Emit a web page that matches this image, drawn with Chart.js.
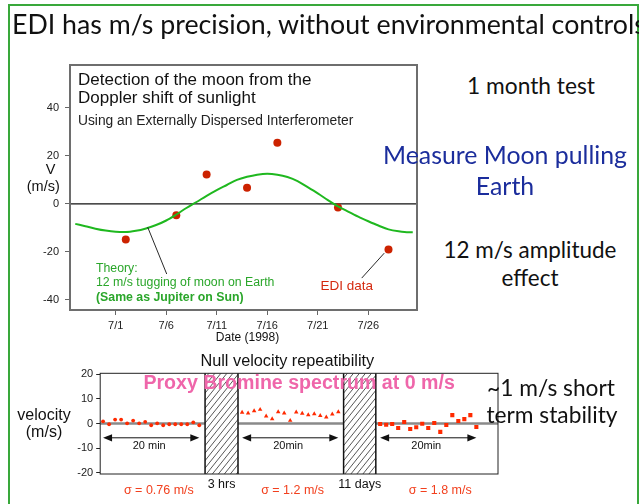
<!DOCTYPE html>
<html>
<head>
<meta charset="utf-8">
<script src="https://cdn.jsdelivr.net/npm/chart.js@4.4.1/dist/chart.umd.min.js"></script>
<style>
  html, body { margin: 0; padding: 0; width: 639px; height: 504px; overflow: hidden; background: #fff; }
  #slide { position: relative; width: 639px; height: 504px; overflow: hidden; }
  #frame { position: absolute; left: 8px; top: 4px; width: 631px; height: 640px; box-sizing: border-box;
           border: 2px solid #39a83b; }
  .wrap { position: absolute; }
  .t { position: absolute; white-space: nowrap; font-family: Lato, 'Open Sans', sans-serif; line-height: 1.2;
       z-index: 5; color: #111; }
  .c { transform: translate(-50%, -50%); }
  .l { transform: translate(0, -50%); }
  .blue { color: #1b2d9c; }
</style>
</head>
<body>
<div id="slide">
  <div id="frame"></div>
  <div class="wrap" style="left:0;top:0;width:430px;height:350px"><canvas id="moonChart"></canvas></div>
  <div class="wrap" style="left:0;top:340px;width:520px;height:164px"><canvas id="nullChart"></canvas></div>

  <div class="t l" id="title" style="left:12px;top:24px">EDI has m/s precision, without environmental controls</div>
  <div class="t c" id="month" style="left:531px;top:86px">1 month test</div>
  <div class="t c blue" id="moon1" style="left:505px;top:155px">Measure Moon pulling</div>
  <div class="t c blue" id="moon2" style="left:505px;top:186px">Earth</div>
  <div class="t c" id="amp1" style="left:530px;top:250px">12 m/s amplitude</div>
  <div class="t c" id="amp2" style="left:530px;top:278px">effect</div>
  <div class="t c" id="stab1" style="left:551px;top:388px">~1 m/s short</div>
  <div class="t c" id="stab2" style="left:552px;top:415px">term stability</div>
</div>

<script>
// ---- Moon detection run (July 1998) ----
const dateTickDays   = [1, 6, 11, 16, 21, 26];            // day of July
const dateTickLabels = ['7/1', '7/6', '7/11', '7/16', '7/21', '7/26'];
const velTicks       = [-40, -20, 0, 20, 40];

const ediDays = [2, 7, 10, 14, 17, 23, 28];
const ediVel  = [-14.8, -4.7, 12.3, 6.7, 25.5, -1.5, -19.0];

const theoryDays = [-3, -2, -1, 0, 1, 2, 3, 4, 5, 6, 7, 8, 9, 10, 11, 12, 13, 14, 15, 16,
                    17, 18, 19, 20, 21, 22, 23, 24, 25, 26, 27, 28, 29, 30, 30.4];
const theoryVel  = [-8.3, -9.3, -10.3, -11.1, -11.6, -11.7, -11.2, -10.2, -8.8, -6.9, -4.4, -1.7,
                    0.8, 3.4, 5.8, 7.9, 10.0, 11.3, 12.2, 12.6, 12.2, 11.2, 9.5, 7.0, 4.4, 1.6,
                    -1.0, -3.2, -5.3, -7.2, -9.0, -10.6, -11.4, -11.8, -11.8];

// ---- Null velocity repeatibility (bromine proxy spectrum) ----
const nullTicks    = [-20, -10, 0, 10, 20];
const nullSegStart = [0, 28.9, 57.6];        // start of each 20 min run on the plotted time axis (min)
const nullStep     = 1.25;                   // minutes between exposures
const nullRun1 = [0.9, -0.3, 1.6, 1.6, 0.1, 1.2, 0.1, 0.7, -0.7, 0.1, -0.7, -0.3, -0.3, -0.3, -0.3, 0.5, -0.7];
const nullRun2 = [4.5, 4.2, 5.1, 5.7, 3.0, 1.9, 4.7, 4.2, 1.2, 4.6, 4.1, 3.5, 3.9, 3.2, 2.6, 3.8, 4.7];
const nullRun3 = [-0.2, -0.5, -0.2, -1.8, 0.6, -2.2, -1.5, -0.1, -1.8, 0.2, -3.4, -0.6, 3.4, 1.0, 1.8, 3.4, -1.4];
const gapBands    = [[21.2, 28.05], [50.0, 56.7]];
const gapLabels   = ['3 hrs', '11 days'];
const sigmaLabels = ['σ = 0.76 m/s', 'σ = 1.2 m/s', 'σ = 1.8 m/s'];
const sigmaAt     = [11.6, 39.4, 70.1];

const SANS = "'Liberation Sans', Arial, sans-serif";

// Size slide text to its column width
function fitWidth(id, width) {
  const el = document.getElementById(id);
  el.style.fontSize = '20px';
  const w = el.getBoundingClientRect().width;
  const fs = 20 * width / w;
  el.style.fontSize = fs + 'px';
  return fs;
}
fitWidth('title', 634);
fitWidth('month', 128);
const fsMoon = fitWidth('moon1', 244);
document.getElementById('moon2').style.fontSize = fsMoon + 'px';
const fsAmp = fitWidth('amp1', 173);
document.getElementById('amp2').style.fontSize = fsAmp + 'px';
const fsStab = fitWidth('stab1', 128);
document.getElementById('stab2').style.fontSize = fsStab + 'px';

function text(ctx, str, x, y, font, color, align) {
  ctx.font = font;
  ctx.fillStyle = color;
  ctx.textAlign = align || 'left';
  ctx.textBaseline = 'middle';
  ctx.fillText(str, x, y);
}

function line(ctx, x0, y0, x1, y1, color, w) {
  ctx.beginPath();
  ctx.moveTo(x0, y0);
  ctx.lineTo(x1, y1);
  ctx.strokeStyle = color;
  ctx.lineWidth = w;
  ctx.stroke();
}

// Frame, zero line and annotations of the moon chart
const moonDecor = {
  id: 'moonDecor',
  beforeDatasetsDraw(chart) {
    const { ctx, chartArea: a, scales: { y } } = chart;
    ctx.save();
    line(ctx, a.left, y.getPixelForValue(0), a.right, y.getPixelForValue(0), '#111', 1.2);
    ctx.restore();
  },
  afterDraw(chart) {
    const { ctx, chartArea: a, scales: { x, y } } = chart;
    ctx.save();
    ctx.strokeStyle = '#6e6e6e';
    ctx.lineWidth = 2;
    ctx.strokeRect(a.left, a.top, a.right - a.left, a.bottom - a.top);

    text(ctx, 'Detection of the moon from the', a.left + 8, a.top + 15.7, '17px ' + SANS, '#111');
    text(ctx, 'Doppler shift of sunlight', a.left + 8, a.top + 33.3, '17px ' + SANS, '#111');
    text(ctx, 'Using an Externally Dispersed Interferometer', a.left + 8, a.top + 55.7, '13.8px ' + SANS, '#222');

    text(ctx, 'V', 50.7, 170, '14.5px ' + SANS, '#111', 'center');
    text(ctx, '(m/s)', 43.3, 186.5, '14.5px ' + SANS, '#111', 'center');
    text(ctx, 'Date (1998)', (a.left + a.right) / 2 + 4, a.bottom + 27.3, '12px ' + SANS, '#111', 'center');

    const green = '#2aa62a';
    text(ctx, 'Theory:', 96, 269, '12.3px ' + SANS, green);
    text(ctx, '12 m/s tugging of moon on Earth', 96, 282.7, '12.3px ' + SANS, green);
    text(ctx, '(Same as Jupiter on Sun)', 96, 297.3, 'bold 12.3px ' + SANS, green);
    line(ctx, x.getPixelForValue(4.17), y.getPixelForValue(-9.7),
              x.getPixelForValue(6.05), y.getPixelForValue(-29.2), '#111', 0.9);

    text(ctx, 'EDI data', 346.7, 286.7, '13.5px ' + SANS, '#d42a10', 'center');
    line(ctx, x.getPixelForValue(25.35), y.getPixelForValue(-30.9),
              x.getPixelForValue(27.58), y.getPixelForValue(-20.5), '#111', 0.9);
    ctx.restore();
  }
};

new Chart(document.getElementById('moonChart'), {
  type: 'line',
  data: {
    datasets: [
      {
        label: 'Theory',
        data: theoryDays.map((d, i) => ({ x: d, y: theoryVel[i] })),
        borderColor: '#1fb81f',
        borderWidth: 2,
        pointRadius: 0,
        cubicInterpolationMode: 'monotone',
        fill: false
      },
      {
        label: 'EDI data',
        data: ediDays.map((d, i) => ({ x: d, y: ediVel[i] })),
        showLine: false,
        pointRadius: 4,
        pointBackgroundColor: '#cc2200',
        pointBorderWidth: 0
      }
    ]
  },
  options: {
    responsive: true,
    maintainAspectRatio: false,
    animation: false,
    events: [],
    layout: { padding: { left: 40, top: 65, right: 13, bottom: 10 } },
    plugins: { legend: { display: false }, tooltip: { enabled: false } },
    scales: {
      x: {
        type: 'linear', min: -3.52, max: 30.82,
        afterFit(s) { s.height = 30; },
        afterBuildTicks(s) { s.ticks = dateTickDays.map(v => ({ value: v })); },
        ticks: {
          callback: v => dateTickLabels[dateTickDays.indexOf(v)],
          font: { family: SANS, size: 11 }, color: '#222', padding: 4,
          maxRotation: 0, autoSkip: false
        },
        grid: { drawOnChartArea: false, tickLength: 5, color: '#666' },
        border: { display: false }
      },
      y: {
        min: -44.2, max: 57.9,
        afterFit(s) { s.width = 30; },
        afterBuildTicks(s) { s.ticks = velTicks.map(v => ({ value: v })); },
        ticks: { font: { family: SANS, size: 11 }, color: '#222', padding: 6 },
        grid: { drawOnChartArea: false, tickLength: 5, color: '#666' },
        border: { display: false }
      }
    }
  },
  plugins: [moonDecor]
});

// Zero line, observing gaps, arrows and labels of the repeatibility chart
function arrow(ctx, xa, xb, y) {
  line(ctx, xa + 4, y, xb - 4, y, '#111', 1);
  ctx.fillStyle = '#111';
  ctx.beginPath();
  ctx.moveTo(xa, y); ctx.lineTo(xa + 9, y - 3.6); ctx.lineTo(xa + 9, y + 3.6); ctx.closePath(); ctx.fill();
  ctx.beginPath();
  ctx.moveTo(xb, y); ctx.lineTo(xb - 9, y - 3.6); ctx.lineTo(xb - 9, y + 3.6); ctx.closePath(); ctx.fill();
}

const nullDecor = {
  id: 'nullDecor',
  beforeDatasetsDraw(chart) {
    const { ctx, chartArea: a, scales: { x, y } } = chart;
    ctx.save();
    line(ctx, a.left, y.getPixelForValue(0), a.right, y.getPixelForValue(0), '#8a8a8a', 2.4);
    gapBands.forEach(([g0, g1]) => {
      const x0 = x.getPixelForValue(g0), x1 = x.getPixelForValue(g1);
      const h = a.bottom - a.top;
      ctx.save();
      ctx.beginPath();
      ctx.rect(x0, a.top, x1 - x0, h);
      ctx.fillStyle = '#fff';
      ctx.fill();
      ctx.clip();
      ctx.beginPath();
      for (let k = -h; k < (x1 - x0) + h; k += 6) {
        ctx.moveTo(x0 + k, a.bottom);
        ctx.lineTo(x0 + k + h * 0.8, a.top);
      }
      ctx.strokeStyle = '#444';
      ctx.lineWidth = 0.9;
      ctx.stroke();
      ctx.restore();
      line(ctx, x0, a.top, x0, a.bottom, '#111', 1.5);
      line(ctx, x1, a.top, x1, a.bottom, '#111', 1.5);
    });
    ctx.restore();
  },
  afterDraw(chart) {
    const { ctx, chartArea: a, scales: { x, y } } = chart;
    ctx.save();
    ctx.strokeStyle = '#222';
    ctx.lineWidth = 1;
    ctx.strokeRect(a.left, a.top, a.right - a.left, a.bottom - a.top);

    text(ctx, 'Null velocity repeatibility', 287.3, 21.7, '16.3px ' + SANS, '#111', 'center');
    text(ctx, 'Proxy Bromine spectrum at 0 m/s', (a.left + a.right) / 2, 43.3, 'bold 19.6px ' + SANS, '#ef66aa', 'center');
    text(ctx, 'velocity', 44, 76, '16px ' + SANS, '#111', 'center');
    text(ctx, '(m/s)', 44, 93, '16px ' + SANS, '#111', 'center');

    const ay = y.getPixelForValue(-5.8);
    nullSegStart.forEach((s, i) => {
      const xa = x.getPixelForValue(s), xb = x.getPixelForValue(s + 20);
      arrow(ctx, xa, xb, ay);
      text(ctx, i === 0 ? '20 min' : '20min', (xa + xb) / 2 - 2, ay + 8.5, '11px ' + SANS, '#111', 'center');
      text(ctx, sigmaLabels[i], x.getPixelForValue(sigmaAt[i]), 150.7, '12.5px ' + SANS, '#f2401e', 'center');
    });
    gapBands.forEach(([g0, g1], i) => {
      text(ctx, gapLabels[i], x.getPixelForValue((g0 + g1) / 2), 144.3, '12.5px ' + SANS, '#111', 'center');
    });
    ctx.restore();
  }
};

const runs = [nullRun1, nullRun2, nullRun3];
const runStyle = [
  { pointStyle: 'circle', radius: 1.9 },
  { pointStyle: 'triangle', radius: 2.6 },
  { pointStyle: 'rect', radius: 2.9 }
];

new Chart(document.getElementById('nullChart'), {
  type: 'scatter',
  data: {
    datasets: runs.map((vals, r) => ({
      label: 'Run ' + (r + 1),
      data: vals.map((v, i) => ({ x: nullSegStart[r] + i * nullStep, y: v })),
      pointStyle: runStyle[r].pointStyle,
      pointRadius: runStyle[r].radius,
      pointBackgroundColor: '#ff2a00',
      pointBorderWidth: 0
    }))
  },
  options: {
    responsive: true,
    maintainAspectRatio: false,
    animation: false,
    events: [],
    layout: { padding: { left: 60.2, top: 33.3, right: 22, bottom: 30 } },
    plugins: { legend: { display: false }, tooltip: { enabled: false } },
    scales: {
      x: { type: 'linear', display: false, min: -0.6, max: 82.1 },
      y: {
        min: -20.5, max: 20.4,
        afterFit(s) { s.width = 40; },
        afterBuildTicks(s) { s.ticks = nullTicks.map(v => ({ value: v })); },
        ticks: { font: { family: SANS, size: 11 }, color: '#222', padding: 3 },
        grid: { drawOnChartArea: false, tickLength: 4, color: '#222' },
        border: { display: false }
      }
    }
  },
  plugins: [nullDecor]
});
</script>
</body>
</html>
